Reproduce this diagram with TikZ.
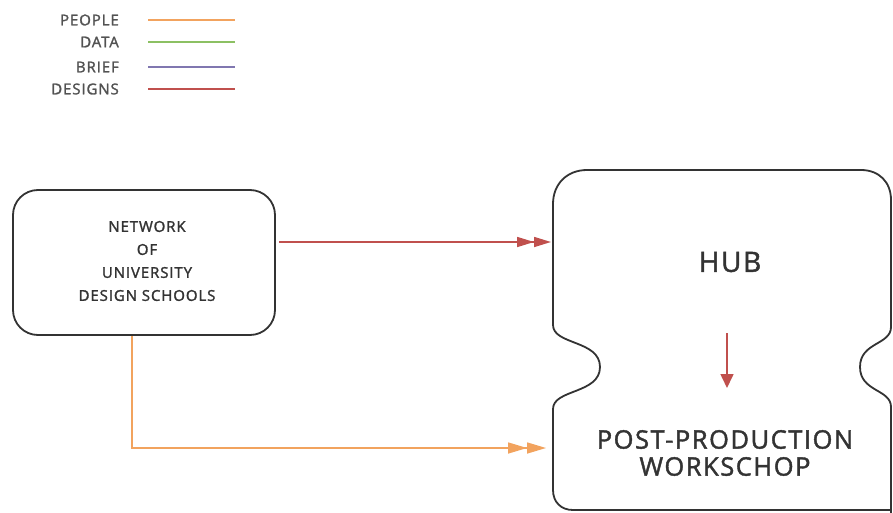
\documentclass[tikz,border=0pt]{standalone}
\usepackage{fontspec}
\setmainfont{Open Sans}[LetterSpace=6,FakeBold=1.6]
\usetikzlibrary{arrows.meta}
\definecolor{cpeople}{HTML}{F2A35E}
\definecolor{cdata}{HTML}{8CC063}
\definecolor{cbrief}{HTML}{8077B0}
\definecolor{cdesign}{HTML}{C0504D}
\definecolor{ink}{HTML}{333333}
\tikzset{
  legendtxt/.style={anchor=east,inner sep=0pt,text=ink!85,font=\fontsize{15}{15}\selectfont},
  legendline/.style={line width=1.8pt},
  boxline/.style={draw=ink,line width=1.8pt},
  smalltxt/.style={align=center,text=ink,font=\fontsize{15}{23}\selectfont},
  bigtxt/.style={align=center,text=ink,font=\fontsize{25.5}{27}\selectfont},
  dbltip/.style={-{Triangle[length=17pt,width=10pt]Triangle[length=17pt,width=10pt]}},
  dbltipwide/.style={-{Triangle[length=19pt,width=11pt]Triangle[length=19pt,width=11pt]}},
  flow/.style={line width=1.6pt},
}
\begin{document}
\begin{tikzpicture}[x=1pt,y=-1pt]
\useasboundingbox (0,0) rectangle (893,513);
\fill[white] (0,0) rectangle (893,513);
% legend
\node[legendtxt] (lp) at (119,20) {PEOPLE};
\node[legendtxt] (ld) at (119,42) {DATA};
\node[legendtxt] (lb) at (119,67) {BRIEF};
\node[legendtxt] (lg) at (119,89) {DESIGNS};
\coordinate (lp1) at (148,20); \coordinate (lp2) at (235,20);
\coordinate (ld1) at (148,42); \coordinate (ld2) at (235,42);
\coordinate (lb1) at (148,67); \coordinate (lb2) at (235,67);
\coordinate (lg1) at (148,89); \coordinate (lg2) at (235,89);
\draw[legendline,cpeople] (lp1) -- (lp2);
\draw[legendline,cdata] (ld1) -- (ld2);
\draw[legendline,cbrief] (lb1) -- (lb2);
\draw[legendline,cdesign] (lg1) -- (lg2);
% network box
\draw[boxline,rounded corners=25pt] (13,190) rectangle (275,335);
\node[smalltxt] (net) at (147,261) {NETWORK\\OF\\UNIVERSITY\\DESIGN SCHOOLS};
\coordinate (netr) at (279,242);
\coordinate (netb) at (132,336);
% hub shape
\draw[boxline]
  (553,325) -- (553,204) .. controls (553,184) and (567,170) .. (587,170) -- (861,170)
  .. controls (879,170) and (891,182) .. (891,200) -- (891,327)
  .. controls (891,345) and (860,342) .. (860,367)
  .. controls (860,392) and (891,389) .. (891,407) -- (891,513)
  (553,325) .. controls (553,345) and (600,340) .. (600,367)
  .. controls (600,394) and (553,389) .. (553,409) -- (553,490)
  .. controls (553,502) and (561,510) .. (573,510) -- (891,510);
\node[bigtxt,font=\fontsize{28}{28}\selectfont] (hub) at (730,262) {HUB};
\node[bigtxt] (post) at (725,453) {POST-PRODUCTION\\WORKSCHOP};
\coordinate (hubin) at (551,242);
\coordinate (postin) at (546,448);
\coordinate (hubdown) at (727,333);
\coordinate (postup) at (727,388);
\coordinate (corner) at (132,448);
% connectors
\draw[flow,cdesign,dbltip] (netr) -- (hubin);
\draw[flow,cpeople,dbltipwide] (netb) -- (corner) -- (postin);
\draw[flow,cdesign,-{Triangle[length=14pt,width=13pt]}] (hubdown) -- (postup);
\end{tikzpicture}
\end{document}
